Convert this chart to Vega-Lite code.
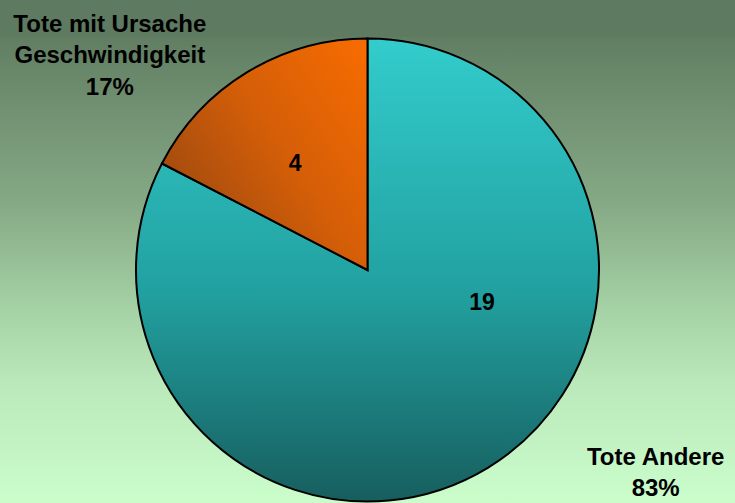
{
  "$schema": "https://vega.github.io/schema/vega-lite/v6.json",
  "width": 735,
  "height": 466,
  "autosize": "none",
  "padding": {"top": 37, "left": 0, "right": 0, "bottom": 0},
  "background": "#5e7a60",
  "config": {"view": {"stroke": null}},
  "data": {
    "values": [
      {"category": "Tote Andere", "value": 19, "label": "Tote Andere\n83%"},
      {"category": "Tote mit Ursache Geschwindigkeit", "value": 4, "label": "Tote mit Ursache\nGeschwindigkeit\n17%"}
    ]
  },
  "layer": [
    {
      "data": {"values": [{}]},
      "mark": {
        "type": "rect",
        "fill": {
          "gradient": "linear", "x1": 0, "y1": 0, "x2": 0, "y2": 1,
          "stops": [
            {"offset": 0, "color": "#617e62"},
            {"offset": 0.24, "color": "#7a9b7a"},
            {"offset": 0.35, "color": "#84a884"},
            {"offset": 0.61, "color": "#a9d6a9"},
            {"offset": 0.74, "color": "#bae8ba"},
            {"offset": 1, "color": "#cbfdcb"}
          ]
        }
      },
      "encoding": {}
    },
    {
      "mark": {"type": "arc", "outerRadius": 231.5, "stroke": "black", "strokeWidth": 2},
      "encoding": {
        "theta": {"field": "value", "type": "quantitative", "stack": true},
        "detail": {"field": "category"},
        "order": {"field": "category", "sort": "ascending"},
        "fill": {
          "condition": {
            "test": "datum.category === 'Tote Andere'",
            "value": {
              "gradient": "linear", "x1": 0, "y1": 0, "x2": 0, "y2": 1,
              "stops": [
                {"offset": 0, "color": "#33cccc"},
                {"offset": 0.55, "color": "#22a0a0"},
                {"offset": 1, "color": "#175e5e"}
              ]
            }
          },
          "value": {
            "gradient": "linear", "x1": 1, "y1": 0, "x2": 0, "y2": 0.75,
            "stops": [
              {"offset": 0, "color": "#f86c00"},
              {"offset": 0.5, "color": "#d45e08"},
              {"offset": 1, "color": "#9a4810"}
            ]
          }
        }
      }
    },
    {
      "mark": {
        "type": "text", "radius": 125, "font": "Liberation Sans", "fontWeight": "bold", "fontSize": 23,
        "align": "center", "baseline": "middle", "color": "black",
        "dx": {"expr": "datum.category === 'Tote Andere' ? 49.5 : -7.5"},
        "dy": {"expr": "datum.category === 'Tote Andere' ? -74 : 1"}
      },
      "encoding": {
        "theta": {"field": "value", "type": "quantitative", "stack": true},
        "detail": {"field": "category"},
        "order": {"field": "category", "sort": "ascending"},
        "text": {"field": "value", "type": "quantitative"}
      }
    },
    {
      "mark": {
        "type": "text", "radius": 340, "font": "Liberation Sans", "fontWeight": "bold", "fontSize": 24,
        "align": "center", "baseline": "middle", "color": "black", "lineBreak": "\n", "lineHeight": 31.5,
        "dx": {"expr": "datum.category === 'Tote Andere' ? 111.5 : -81"},
        "dy": {"expr": "datum.category === 'Tote Andere' ? -103 : 45.5"}
      },
      "encoding": {
        "theta": {"field": "value", "type": "quantitative", "stack": true},
        "detail": {"field": "category"},
        "order": {"field": "category", "sort": "ascending"},
        "text": {"field": "label"}
      }
    }
  ]
}
